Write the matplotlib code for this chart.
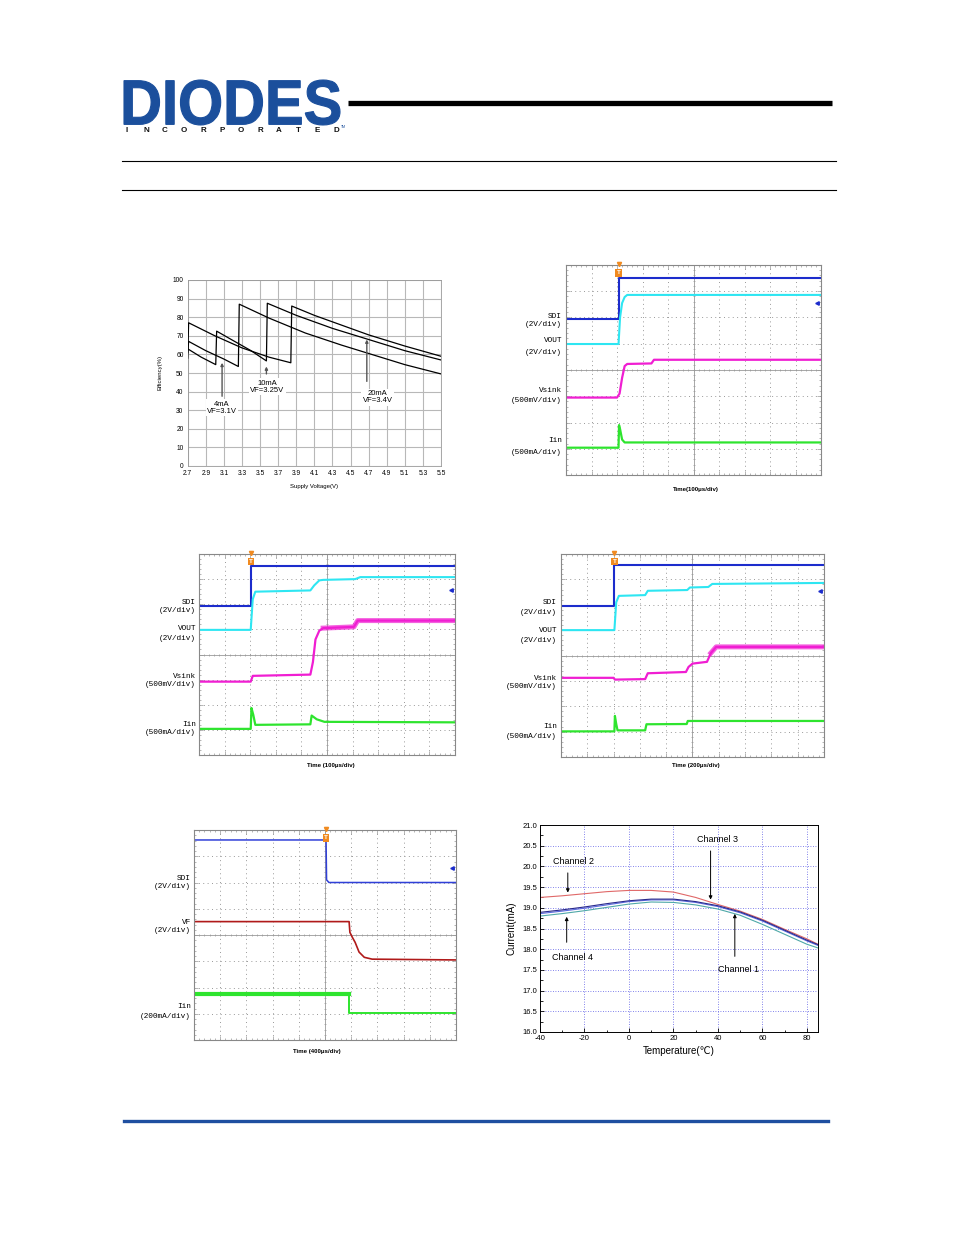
import numpy as np
import matplotlib
matplotlib.use('Agg')
import matplotlib.pyplot as plt
from matplotlib.textpath import TextPath
from matplotlib.font_manager import FontProperties
from matplotlib.patches import PathPatch
from matplotlib.transforms import Affine2D

plt.rcParams['font.family'] = ['Liberation Sans', 'DejaVu Sans']
plt.rcParams['axes.unicode_minus'] = False

# ---- efficiency vs supply voltage (three LED currents, mode jumps) ----
eff_a_v = [2.70, 2.71, 3.00, 3.30, 3.60, 3.84, 3.85, 4.10, 4.30, 4.70, 5.10, 5.50]
eff_a = [58.0, 77.0, 70.0, 63.5, 58.5, 55.5, 86.0, 81.0, 77.5, 70.5, 64.5, 59.0]
eff_b_v = [2.70, 2.85, 3.01, 3.02, 3.20, 3.40, 3.57, 3.58, 3.90, 4.30, 4.70, 5.10, 5.50]
eff_b = [63.0, 58.5, 54.5, 72.5, 67.5, 62.0, 56.5, 87.5, 81.0, 74.0, 68.0, 62.0, 57.0]
eff_c_v = [2.70, 2.71, 2.90, 3.10, 3.26, 3.27, 3.60, 4.00, 4.40, 4.70, 5.10, 5.50]
eff_c = [61.0, 67.0, 62.0, 57.5, 53.5, 87.0, 79.5, 71.5, 65.0, 60.5, 54.5, 49.5]

# ---- scope shot 1: SDI rising, 100us/div (units: divisions) ----
sdi_1_t = [0, 2.06, 2.06, 10]
sdi_1 = [5.94, 5.94, 7.52, 7.52]
vout_1_t = [0, 2.06, 2.12, 2.20, 2.30, 2.40, 10]
vout_1 = [4.99, 4.99, 6.00, 6.55, 6.78, 6.86, 6.86]
vsink_1_t = [0, 2.00, 2.10, 2.20, 2.30, 2.40, 3.35, 3.45, 10]
vsink_1 = [2.95, 2.95, 3.10, 3.70, 4.15, 4.23, 4.25, 4.39, 4.39]
iin_1_t = [0, 2.06, 2.08, 2.12, 2.20, 2.30, 10]
iin_1 = [1.04, 1.04, 1.90, 1.75, 1.35, 1.24, 1.24]

# ---- scope shot 2: 100us/div ----
sdi_2_t = [0, 2.02, 2.02, 10]
sdi_2 = [5.95, 5.95, 7.54, 7.54]
vout_2_t = [0, 2.02, 2.10, 2.20, 4.35, 4.50, 4.70, 4.85, 6.10, 6.30, 10]
vout_2 = [4.98, 4.98, 6.20, 6.50, 6.55, 6.75, 6.95, 6.97, 7.00, 7.08, 7.08]
vsink_2_t = [0, 2.02, 2.10, 4.35, 4.45, 4.55, 4.70, 4.85, 6.05, 6.20, 10]
vsink_2 = [2.92, 2.92, 3.15, 3.20, 3.70, 4.60, 4.95, 5.05, 5.10, 5.35, 5.35]
iin_2_t = [0, 2.02, 2.05, 2.12, 2.20, 4.35, 4.40, 4.60, 4.90, 10]
iin_2 = [1.04, 1.04, 1.87, 1.60, 1.20, 1.22, 1.57, 1.42, 1.32, 1.30]

# ---- scope shot 3: 200us/div ----
sdi_3_t = [0, 2.03, 2.03, 10]
sdi_3 = [5.96, 5.96, 7.56, 7.56]
vout_3_t = [0, 2.03, 2.10, 2.20, 3.20, 3.30, 4.80, 4.90, 5.60, 5.75, 10]
vout_3 = [5.00, 5.00, 6.10, 6.35, 6.38, 6.55, 6.58, 6.68, 6.70, 6.82, 6.86]
vsink_3_t = [0, 2.00, 2.05, 3.20, 3.30, 4.75, 4.85, 5.00, 5.55, 5.70, 5.90, 10]
vsink_3 = [3.12, 3.12, 3.05, 3.07, 3.30, 3.35, 3.55, 3.68, 3.75, 4.10, 4.34, 4.34]
iin_3_t = [0, 2.03, 2.05, 2.10, 2.15, 3.20, 3.25, 4.78, 4.82, 10]
iin_3 = [1.01, 1.01, 1.62, 1.30, 1.05, 1.05, 1.29, 1.30, 1.42, 1.42]

# ---- scope shot 4: SDI falling, 400us/div ----
sdi_4_t = [0, 5.04, 5.06, 5.15, 10]
sdi_4 = [7.62, 7.62, 6.10, 6.00, 6.00]
vf_4_t = [0, 5.92, 5.95, 6.05, 6.15, 6.30, 6.50, 6.80, 10]
vf_4 = [4.51, 4.51, 4.10, 3.90, 3.72, 3.35, 3.15, 3.08, 3.05]
iin_4_t = [0, 5.92, 5.92, 10]
iin_4 = [1.74, 1.74, 1.04, 1.04]

# ---- LED current vs temperature ----
temp = [-40, -30, -20, -10, 0, 10, 20, 30, 40, 50, 60, 70, 80, 85]
ch2 = [19.25, 19.29, 19.34, 19.39, 19.42, 19.42, 19.38, 19.25, 19.08, 18.92, 18.72, 18.48, 18.25, 18.12]
ch1 = [18.89, 18.95, 19.02, 19.10, 19.17, 19.21, 19.21, 19.15, 19.05, 18.90, 18.70, 18.46, 18.22, 18.11]
ch3 = [18.86, 18.92, 18.99, 19.07, 19.15, 19.19, 19.19, 19.13, 19.03, 18.88, 18.68, 18.44, 18.20, 18.09]
ch4 = [18.80, 18.86, 18.93, 19.01, 19.09, 19.14, 19.13, 19.07, 18.97, 18.82, 18.60, 18.36, 18.12, 18.03]

W, H = 954, 1235
fig = plt.figure(figsize=(W / 100, H / 100), dpi=100)


def px_axes(x0, y0, x1, y1):
    return fig.add_axes([x0 / W, 1 - y1 / H, (x1 - x0) / W, (y1 - y0) / H])


# page layer in pixel coords
bg = fig.add_axes([0, 0, 1, 1], zorder=-1)
bg.set_xlim(0, W)
bg.set_ylim(H, 0)
bg.axis('off')

# logo
tp = TextPath((0, 0), 'DIODES', prop=FontProperties(family='Liberation Sans', weight='bold'))
bb = tp.get_extents()
tr = Affine2D().translate(-bb.x0, -bb.y0).scale(216 / bb.width, -45 / bb.height).translate(124, 125)
bg.add_patch(PathPatch(tr.transform_path(tp), fc='#1b4f9c', ec='#1b4f9c', lw=0.8))
for i, ch in enumerate('INCORPORATED'):
    bg.text(127 + i * 19, 131, ch, ha='center', va='center', fontsize=5.8, fontweight='bold', color='#111')
bg.text(343, 127, 'TM', fontsize=2.5, color='#1b4f9c', ha='center', va='center')
bg.plot([348, 832], [103, 103], color='black', lw=3.8, solid_capstyle='butt')
bg.plot([122, 836], [161, 161], color='black', lw=0.8)
bg.plot([122, 836], [190, 190], color='black', lw=0.8)
bg.plot([124, 828], [1121, 1121], color='#1f4fa0', lw=2.4)

# ---- panel: efficiency ----
ax = px_axes(187.7, 280, 441, 466)
for xs, ys in [(eff_a_v, eff_a), (eff_b_v, eff_b), (eff_c_v, eff_c)]:
    ax.plot(xs, ys, color='black', lw=0.9, zorder=3)
ax.set_xlim(2.7, 5.5)
ax.set_ylim(0, 100)
ax.set_xticks(np.round(np.arange(2.7, 5.51, 0.2), 1))
ax.set_yticks(range(0, 101, 10))
ax.grid(True, color='#b8b8b8', lw=0.8)
ax.tick_params(labelsize=4.8, length=0, pad=3)
for s in ax.spines.values():
    s.set_color('#999')
    s.set_linewidth(0.6)
ax.set_xlabel('Supply Voltage(V)', fontsize=4.3, labelpad=5)
ax.set_ylabel('Efficiency(%)', fontsize=4.3, labelpad=7)
ann_kw = dict(arrowstyle='-|>', color='#555', lw=1.0, mutation_scale=4)
ax.annotate('', xy=(3.08, 57), xytext=(3.08, 36), arrowprops=ann_kw)
ax.annotate('', xy=(3.57, 55), xytext=(3.57, 48), arrowprops=ann_kw)
ax.annotate('', xy=(4.68, 69.5), xytext=(4.68, 44), arrowprops=ann_kw)
box = dict(fc='white', ec='none', pad=1)
ax.text(3.08, 31.3, '4mA\nVF=3.1V', fontsize=5.5, ha='center', va='center', bbox=box, linespacing=1.05)
ax.text(3.58, 42.5, '10mA\nVF=3.25V', fontsize=5.5, ha='center', va='center', bbox=box, linespacing=1.05)
ax.text(4.80, 37.0, '20mA\nVF=3.4V', fontsize=5.5, ha='center', va='center', bbox=box, linespacing=1.05)

# ---- scope panels ----
C_SDI, C_VOUT, C_VSINK, C_IIN, C_VF = '#1c2ccc', '#2ee6f2', '#f01ed2', '#2ee42e', '#b01a1a'


def scope(box_px, trig, arrow_y):
    a = px_axes(*box_px)
    a.set_xlim(0, 10)
    a.set_ylim(0, 8)
    for x in range(1, 10):
        if x != 5:
            a.axvline(x, color='#999', lw=0.7, ls=(0, (1, 3.5)), zorder=0)
    for y in range(1, 8):
        if y != 4:
            a.axhline(y, color='#999', lw=0.7, ls=(0, (1, 3.5)), zorder=0)
    a.axvline(5, color='#999', lw=0.6, zorder=0)
    a.axhline(4, color='#999', lw=0.6, zorder=0)
    tk = np.arange(0.2, 10, 0.2)
    a.plot(tk, np.full_like(tk, 4), '|', ms=2, mew=0.5, color='#999', zorder=0)
    ty = np.arange(0.2, 8, 0.2)
    a.plot(np.full_like(ty, 5), ty, '_', ms=2, mew=0.5, color='#999', zorder=0)
    a.set_xticks(range(11))
    a.set_yticks(range(9))
    a.set_xticks(np.arange(0, 10.01, 0.2), minor=True)
    a.set_yticks(np.arange(0, 8.01, 0.2), minor=True)
    a.tick_params(which='both', direction='in', top=True, right=True,
                  labelbottom=False, labelleft=False, color='#999', width=0.5)
    a.tick_params(which='major', length=3)
    a.tick_params(which='minor', length=1.5)
    for s in a.spines.values():
        s.set_color('#888')
        s.set_linewidth(0.8)
    a.text(trig, 7.7, 'T', color='white', fontsize=4.5, fontweight='bold', ha='center', va='center',
           bbox=dict(boxstyle='square,pad=0.2', fc='#f08a20', ec='none'), zorder=6)
    a.plot(trig, 8.02, marker='v', color='#f08a20', ms=3, clip_on=False, zorder=6)
    a.plot(9.85, arrow_y, marker='<', ms=2.5, color='#1c2ccc', zorder=6)
    return a


def labels(xr, items, tx, ty, ttext):
    for y, s in items:
        bg.text(xr, y, s, ha='right', va='center', fontsize=5.6, family=['Liberation Mono', 'DejaVu Sans Mono'])
    bg.text(tx, ty, ttext, ha='center', va='center', fontsize=4.4, fontweight='bold')


# scope 1
a1 = scope((566, 265, 821, 475), 2.06, 6.55)
a1.plot(sdi_1_t, sdi_1, color=C_SDI, lw=1.5)
a1.plot(vout_1_t, vout_1, color=C_VOUT, lw=1.5)
a1.plot(vsink_1_t, vsink_1, color=C_VSINK, lw=1.6)
a1.plot(iin_1_t, iin_1, color=C_IIN, lw=1.6)
labels(562, [(316, 'SDI'), (325, '(2V/div)'), (341, 'VOUT'), (352, '(2V/div)'),
             (391, 'Vsink'), (400, '(500mV/div)'), (441, 'Iin'), (452, '(500mA/div)')],
       696, 489, 'Time(100\u03bcs/div)')

# scope 2
a2 = scope((199, 554, 455, 755), 2.02, 6.55)
a2.plot(sdi_2_t, sdi_2, color=C_SDI, lw=1.5)
a2.plot(vout_2_t, vout_2, color=C_VOUT, lw=1.5)
a2.plot(vsink_2_t, vsink_2, color=C_VSINK, lw=1.6)
a2.plot(vsink_2_t[7:], vsink_2[7:], color=C_VSINK, lw=3.6, alpha=0.7)
a2.plot(iin_2_t, iin_2, color=C_IIN, lw=1.6)
labels(196, [(602, 'SDI'), (611, '(2V/div)'), (629, 'VOUT'), (638, '(2V/div)'),
             (676, 'Vsink'), (685, '(500mV/div)'), (724, 'Iin'), (733, '(500mA/div)')],
       331, 766, 'Time (100\u03bcs/div)')

# scope 3
a3 = scope((561, 554, 824, 757), 2.03, 6.55)
a3.plot(sdi_3_t, sdi_3, color=C_SDI, lw=1.5)
a3.plot(vout_3_t, vout_3, color=C_VOUT, lw=1.5)
a3.plot(vsink_3_t, vsink_3, color=C_VSINK, lw=1.6)
a3.plot(vsink_3_t[9:], vsink_3[9:], color=C_VSINK, lw=3.6, alpha=0.7)
a3.plot(iin_3_t, iin_3, color=C_IIN, lw=1.6)
labels(557, [(603, 'SDI'), (612, '(2V/div)'), (631, 'VOUT'), (640, '(2V/div)'),
             (678, 'Vsink'), (686, '(500mV/div)'), (727, 'Iin'), (736, '(500mA/div)')],
       696, 766, 'Time (200\u03bcs/div)')

# scope 4
a4 = scope((194, 830, 456, 1040), 5.04, 6.56)
a4.plot(sdi_4_t, sdi_4, color='#3040d8', lw=1.1)
a4.plot(vf_4_t, vf_4, color=C_VF, lw=1.2)
a4.plot(iin_4_t[:2], iin_4[:2], color=C_IIN, lw=3.0)
a4.plot(iin_4_t[1:], iin_4[1:], color=C_IIN, lw=1.4)
labels(191, [(878, 'SDI'), (887, '(2V/div)'), (922, 'VF'), (931, '(2V/div)'),
             (1006, 'Iin'), (1016, '(200mA/div)')],
       317, 1051, 'Time (400\u03bcs/div)')

# ---- panel: current vs temperature ----
at = px_axes(540, 825, 818, 1032)
at.plot(temp, ch2, color='#e06868', lw=0.8)
at.plot(temp, ch4, color='#4fa8a8', lw=0.8)
at.plot(temp, ch3, color='#5a6ae0', lw=0.8)
at.plot(temp, ch1, color='#2a2a8c', lw=0.8)
at.set_xlim(-40, 85)
at.set_ylim(16.0, 21.0)
at.set_xticks(range(-40, 81, 20))
at.set_xticks(range(-40, 86, 10), minor=True)
at.set_yticks(np.arange(16.0, 21.01, 0.5))
at.set_yticks(np.arange(16.0, 21.01, 0.25), minor=True)
at.set_yticklabels([f'{v:.1f}' for v in np.arange(16.0, 21.01, 0.5)])
at.grid(True, which='major', color='#5a5ae6', lw=0.6, ls=(0, (1, 2)))
at.tick_params(which='both', direction='in', labelsize=5.5, pad=2, width=0.6)
at.tick_params(which='major', length=3)
at.tick_params(which='minor', length=1.8)
for s in at.spines.values():
    s.set_linewidth(0.7)
at.set_xlabel('Temperature(\u2103)', fontsize=7, labelpad=3)
at.set_ylabel('Current(mA)', fontsize=7, labelpad=4)
arr = dict(arrowstyle='-|>', color='black', lw=0.7, mutation_scale=5)
at.annotate('', xy=(-27.5, 19.30), xytext=(-27.5, 19.91), arrowprops=arr)
at.annotate('', xy=(36.7, 19.13), xytext=(36.7, 20.44), arrowprops=arr)
at.annotate('', xy=(-28.0, 18.85), xytext=(-28.0, 18.10), arrowprops=arr)
at.annotate('', xy=(47.6, 18.92), xytext=(47.6, 17.76), arrowprops=arr)
at.text(-34.1, 20.11, 'Channel 2', fontsize=6.5, va='center')
at.text(30.4, 20.64, 'Channel 3', fontsize=6.5, va='center')
at.text(-34.7, 17.79, 'Channel 4', fontsize=6.5, va='center')
at.text(40.2, 17.52, 'Channel 1', fontsize=6.5, va='center')

fig.savefig('out.png', dpi=100)
